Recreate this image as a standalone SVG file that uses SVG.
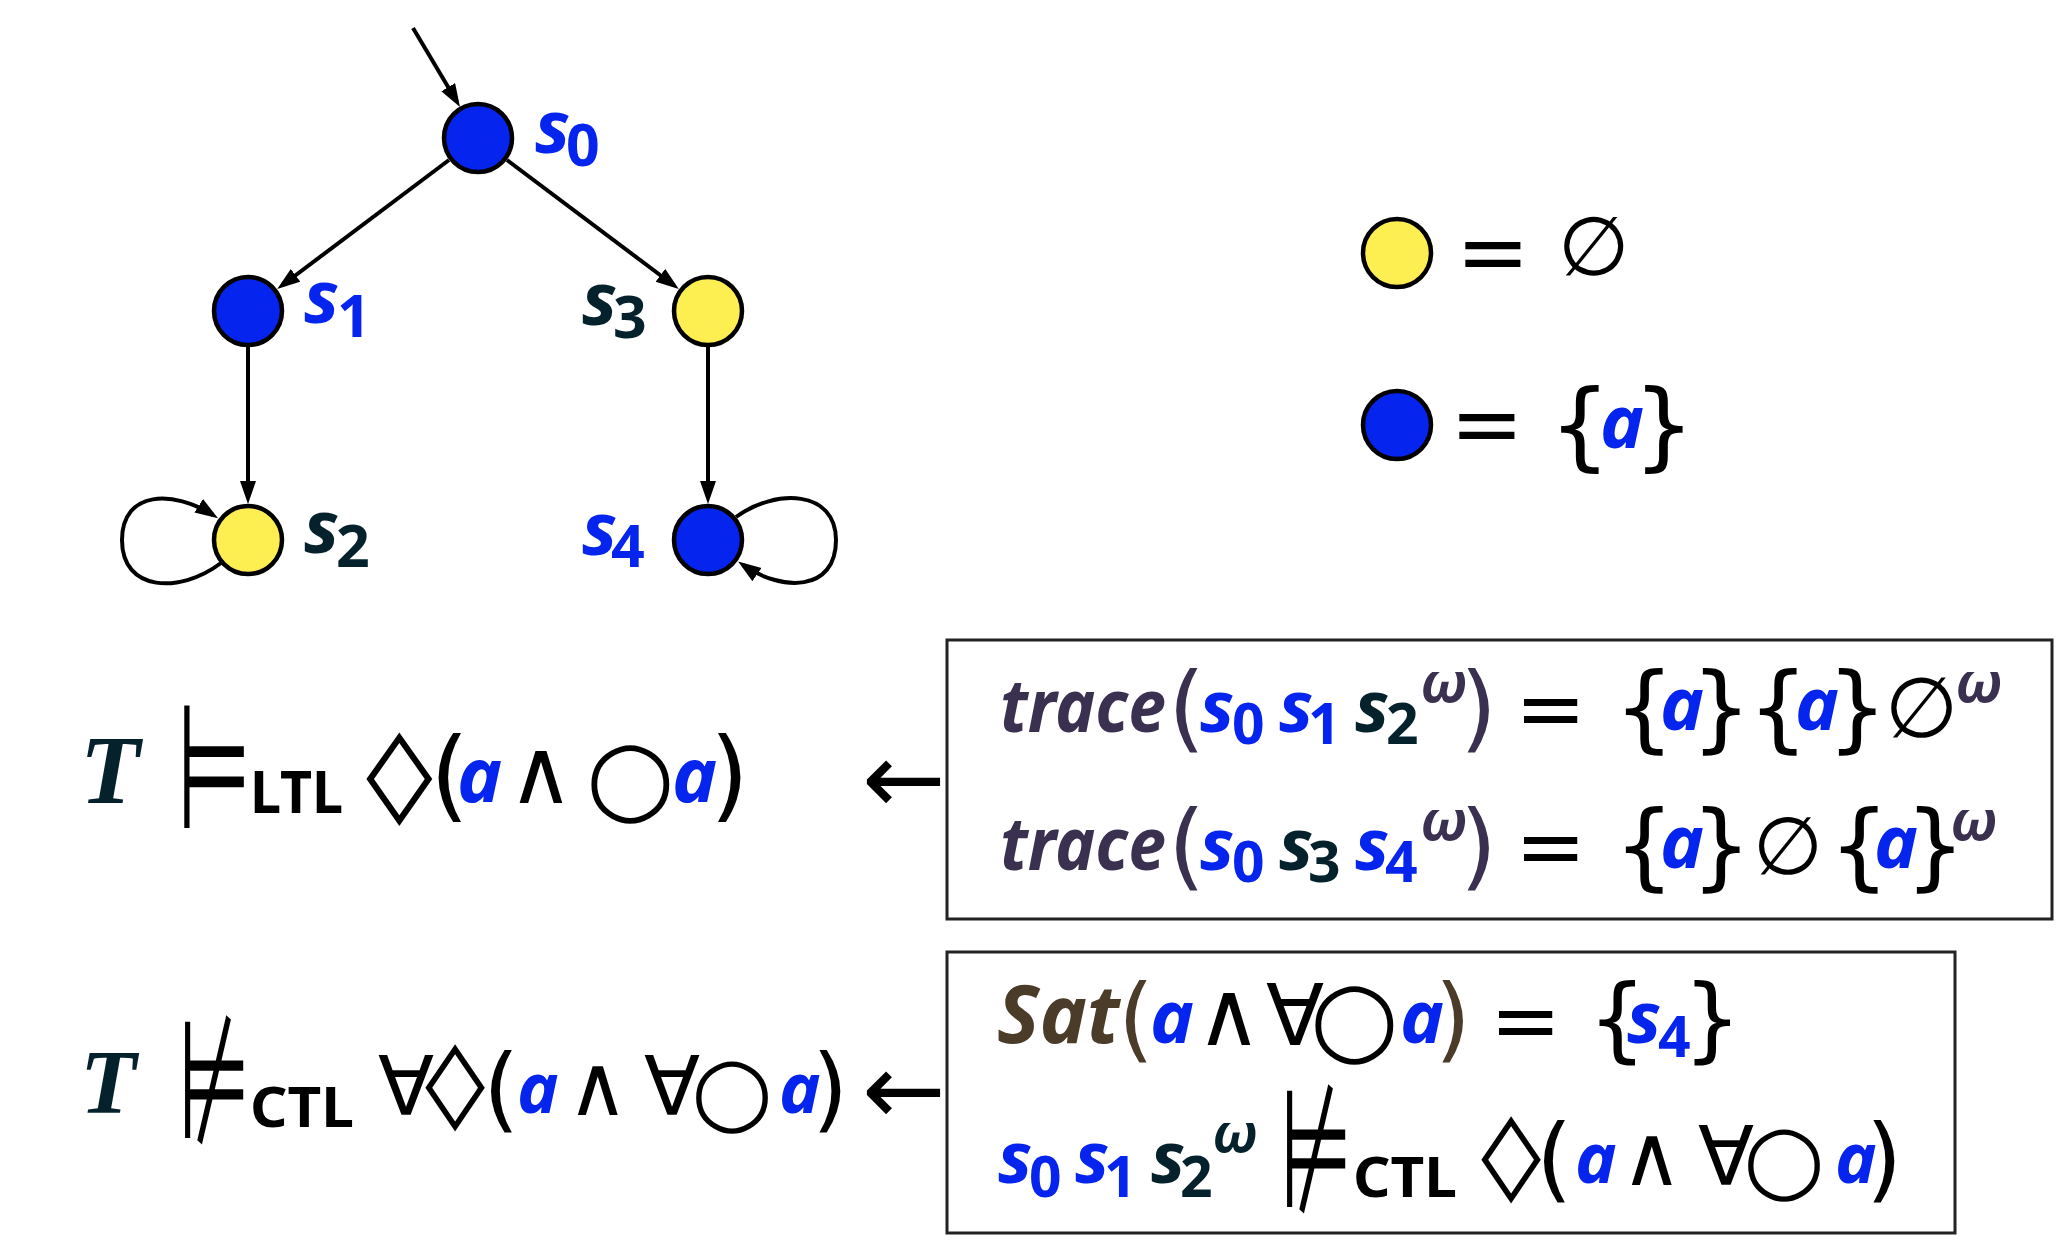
<svg xmlns="http://www.w3.org/2000/svg" width="2060" height="1254" viewBox="0 0 2060 1254">
<defs>
<style>
.it{font-family:"Noto Sans","DejaVu Sans",sans-serif;font-style:italic;font-weight:700}
.up{font-family:"Noto Sans","DejaVu Sans",sans-serif;font-weight:700}
.m{font-family:"DejaVu Sans",sans-serif}
.cal{font-family:"Liberation Serif",serif;font-style:italic;font-weight:700}
.b{fill:#0524EE}.d{fill:#04212C}.p{fill:#3A3150}.br{fill:#4A3C29}.k{fill:#000}
.node{stroke:#000;stroke-width:4.5}
.blue{fill:#0524EE}.yel{fill:#FDEE52}
.edge{fill:none;stroke:#000;stroke-width:4}
.box{fill:none;stroke:#222;stroke-width:3}
</style>
<marker id="arr" markerUnits="userSpaceOnUse" markerWidth="24" markerHeight="18" refX="17" refY="8" orient="auto"><path d="M0,0 L23,8 L0,16 z" fill="#000"/></marker>
</defs>
<rect width="2060" height="1254" fill="#fff"/>

<g id="connectors">
<path class="edge" d="M413,28 L456.9,101.8" marker-end="url(#arr)"/>
<path class="edge" d="M449,160 L282,285.5" marker-end="url(#arr)"/>
<path class="edge" d="M507,160 L674,285.5" marker-end="url(#arr)"/>
<path class="edge" d="M248,347 L248,498" marker-end="url(#arr)"/>
<path class="edge" d="M708,347 L708,498" marker-end="url(#arr)"/>
<path class="edge" d="M221,563 C180,594 122,592 122,540 C122,490 174,490 213,515" marker-end="url(#arr)"/>
<path class="edge" d="M736,517 C776,488 836,490 836,540 C836,592 782,592 743,565" marker-end="url(#arr)"/>
</g>

<g id="nodes">
<g id="s0"><circle class="node blue" cx="478" cy="138" r="34"/><text class="it b" x="535" y="153" font-size="74">s</text><text class="up b" x="566" y="166" font-size="59">0</text></g>
<g id="s1"><circle class="node blue" cx="248" cy="311" r="34"/><text class="it b" x="304" y="323" font-size="74">s</text><text class="up b" x="337" y="337" font-size="59">1</text></g>
<g id="s3"><circle class="node yel" cx="708" cy="311" r="34"/><text class="it d" x="582" y="325" font-size="74">s</text><text class="up d" x="613" y="338" font-size="59">3</text></g>
<g id="s2"><circle class="node yel" cx="248" cy="540" r="34"/><text class="it d" x="304" y="553" font-size="74">s</text><text class="up d" x="336" y="567" font-size="59">2</text></g>
<g id="s4"><circle class="node blue" cx="708" cy="540" r="34"/><text class="it b" x="582" y="555" font-size="74">s</text><text class="up b" x="611" y="567" font-size="59">4</text></g>
</g>

<g id="legend">
<circle class="node yel" cx="1397" cy="253" r="34"/>
<text class="m k" x="1456" y="282" font-size="88">=</text>
<text class="m k" x="1558" y="275" font-size="82">∅</text>
<circle class="node blue" cx="1397" cy="425" r="34"/>
<text class="m k" x="1450" y="454" font-size="88">=</text>
<text class="m k" x="1549" y="458" font-size="97">{</text>
<text class="it b" x="1600" y="448" font-size="74">a</text>
<text class="m k" x="1633" y="458" font-size="97">}</text>
</g>

<g id="ltl">
<text class="cal d" x="80" y="803" font-size="98">T</text>
<text class="m k" transform="translate(177,828) scale(0.68,1.4)" font-size="125">⊨</text>
<text class="up k" x="250" y="813" font-size="60" textLength="93" lengthAdjust="spacingAndGlyphs">LTL</text>
<text class="m k" transform="translate(366,805) scale(1.5,1)" font-size="90">◊</text>
<text class="m k" x="430" y="809" font-size="100">(</text>
<text class="it b" x="457" y="802" font-size="76">a</text>
<text class="m k" x="508" y="803" font-size="90">∧</text>
<text class="m k" x="586" y="811" font-size="102">○</text>
<text class="it b" x="672" y="802" font-size="76">a</text>
<text class="m k" x="710" y="809" font-size="100">)</text>
<text class="m k" x="862" y="813" font-size="100">←</text>
</g>

<g id="ctl">
<text class="cal d" x="80" y="1113" font-size="92">T</text>
<text class="m k" transform="translate(178,1138) scale(0.68,1.36)" font-size="122">⊭</text>
<text class="up k" x="250" y="1127" font-size="55" textLength="104" lengthAdjust="spacingAndGlyphs">CTL</text>
<text class="m k" x="378" y="1115" font-size="82">∀</text>
<text class="m k" transform="translate(425,1112) scale(1.45,1)" font-size="84">◊</text>
<text class="m k" x="483" y="1121" font-size="93">(</text>
<text class="it b" x="517" y="1113" font-size="70">a</text>
<text class="m k" x="567" y="1115" font-size="84">∧</text>
<text class="m k" x="644" y="1115" font-size="82">∀</text>
<text class="m k" x="691" y="1122" font-size="94">○</text>
<text class="it b" x="779" y="1113" font-size="70">a</text>
<text class="m k" x="812" y="1121" font-size="93">)</text>
<text class="m k" x="862" y="1124" font-size="100">←</text>
</g>

<g id="traces">
<rect class="box" x="947" y="640" width="1105" height="279"/>
<text class="it p" x="1000" y="732" font-size="73" textLength="166" lengthAdjust="spacingAndGlyphs">trace</text>
<text class="m p" x="1168" y="740" font-size="95">(</text>
<text class="it b" x="1200" y="732" font-size="72">s</text><text class="up b" x="1232" y="744" font-size="57">0</text>
<text class="it b" x="1279" y="732" font-size="72">s</text><text class="up b" x="1308" y="744" font-size="57">1</text>
<text class="it d" x="1355" y="732" font-size="72">s</text><text class="up d" x="1386" y="744" font-size="57">2</text>
<text class="it p" x="1420" y="702" font-size="56">ω</text>
<text class="m p" x="1460" y="740" font-size="95">)</text>
<text class="m k" x="1515" y="738" font-size="85">=</text>
<text class="m k" x="1614" y="740" font-size="95">{</text>
<text class="it b" x="1660" y="730" font-size="74">a</text>
<text class="m k" x="1691" y="740" font-size="95">}</text>
<text class="m k" x="1748" y="740" font-size="95">{</text>
<text class="it b" x="1795" y="730" font-size="74">a</text>
<text class="m k" x="1827" y="740" font-size="95">}</text>
<text class="m k" x="1885" y="737" font-size="84">∅</text>
<text class="it p" x="1955" y="702" font-size="56">ω</text>

<text class="it p" x="1000" y="870" font-size="73" textLength="166" lengthAdjust="spacingAndGlyphs">trace</text>
<text class="m p" x="1168" y="878" font-size="95">(</text>
<text class="it b" x="1200" y="870" font-size="72">s</text><text class="up b" x="1232" y="882" font-size="57">0</text>
<text class="it d" x="1279" y="870" font-size="72">s</text><text class="up d" x="1308" y="882" font-size="57">3</text>
<text class="it b" x="1355" y="870" font-size="72">s</text><text class="up b" x="1385" y="882" font-size="57">4</text>
<text class="it p" x="1420" y="840" font-size="56">ω</text>
<text class="m p" x="1460" y="878" font-size="95">)</text>
<text class="m k" x="1515" y="876" font-size="85">=</text>
<text class="m k" x="1614" y="878" font-size="95">{</text>
<text class="it b" x="1660" y="868" font-size="74">a</text>
<text class="m k" x="1691" y="878" font-size="95">}</text>
<text class="m k" x="1753" y="874" font-size="80">∅</text>
<text class="m k" x="1829" y="878" font-size="95">{</text>
<text class="it b" x="1874" y="868" font-size="74">a</text>
<text class="m k" x="1905" y="878" font-size="95">}</text>
<text class="it p" x="1950" y="840" font-size="56">ω</text>
</g>

<g id="sat">
<rect class="box" x="947" y="952" width="1008" height="281"/>
<text class="it br" x="997" y="1043" font-size="80">Sat</text>
<text class="m br" x="1118" y="1051" font-size="92">(</text>
<text class="it b" x="1150" y="1043" font-size="74">a</text>
<text class="m k" x="1196" y="1045" font-size="90">∧</text>
<text class="m k" x="1266" y="1045" font-size="85">∀</text>
<text class="m k" x="1310" y="1052" font-size="102">○</text>
<text class="it b" x="1400" y="1043" font-size="74">a</text>
<text class="m br" x="1435" y="1051" font-size="92">)</text>
<text class="m k" x="1490" y="1050" font-size="85">=</text>
<text class="m k" x="1588" y="1051" font-size="92">{</text>
<text class="it b" x="1627" y="1043" font-size="72">s</text><text class="up b" x="1658" y="1057" font-size="57">4</text>
<text class="m k" x="1683" y="1051" font-size="92">}</text>

<text class="it b" x="998" y="1183" font-size="72">s</text><text class="up b" x="1029" y="1197" font-size="57">0</text>
<text class="it b" x="1075" y="1183" font-size="72">s</text><text class="up b" x="1104" y="1197" font-size="57">1</text>
<text class="it d" x="1151" y="1183" font-size="72">s</text><text class="up d" x="1180" y="1197" font-size="57">2</text>
<text class="it d" x="1212" y="1152" font-size="54">ω</text>
<text class="m k" transform="translate(1280,1207) scale(0.68,1.36)" font-size="122">⊭</text>
<text class="up k" x="1353" y="1197" font-size="55" textLength="104" lengthAdjust="spacingAndGlyphs">CTL</text>
<text class="m k" transform="translate(1481,1184) scale(1.45,1)" font-size="84">◊</text>
<text class="m k" x="1536" y="1191" font-size="93">(</text>
<text class="it b" x="1575" y="1183" font-size="70">a</text>
<text class="m k" x="1621" y="1185" font-size="84">∧</text>
<text class="m k" x="1698" y="1185" font-size="82">∀</text>
<text class="m k" x="1743" y="1190" font-size="94">○</text>
<text class="it b" x="1835" y="1183" font-size="70">a</text>
<text class="m k" x="1866" y="1191" font-size="93">)</text>
</g>
</svg>
